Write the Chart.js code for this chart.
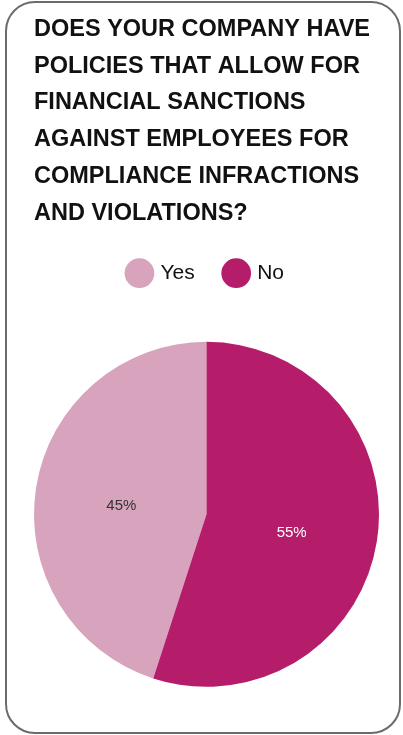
<!DOCTYPE html>
<html>
<head>
<meta charset="utf-8">
<script src="https://cdn.jsdelivr.net/npm/chart.js@4"></script>
<style>
  html, body { margin: 0; padding: 0; background: #fff; }
  #frame {
    position: absolute; left: 5px; top: 1px; width: 396px; height: 733px;
    box-sizing: border-box; border: 2.5px solid #6b6b6b; border-radius: 30px;
  }
  #wrap { position: absolute; left: 0; top: 0; width: 403px; height: 735px; }
</style>
</head>
<body>
<div id="frame"></div>
<div id="wrap"><canvas id="survey"></canvas></div>
<script>
const titleLines = [
  'DOES YOUR COMPANY HAVE',
  'POLICIES THAT ALLOW FOR',
  'FINANCIAL SANCTIONS',
  'AGAINST EMPLOYEES FOR',
  'COMPLIANCE INFRACTIONS',
  'AND VIOLATIONS?'
];
const answers = ['Yes', 'No'];
const shares = [45, 55];
const sliceColors = ['#d8a3bd', '#b51d6b'];
const shareColors = ['#333333', '#ffffff'];

const fontFamily = '"Liberation Sans", Arial, Helvetica, sans-serif';

// percent text in the middle of each slice
const shareLabels = {
  id: 'shareLabels',
  afterDatasetsDraw(chart) {
    const ctx = chart.ctx;
    const meta = chart.getDatasetMeta(0);
    ctx.save();
    ctx.font = '15px ' + fontFamily;
    ctx.textAlign = 'center';
    ctx.textBaseline = 'middle';
    meta.data.forEach((arc, i) => {
      const p = arc.tooltipPosition();
      ctx.fillStyle = shareColors[i];
      ctx.fillText(shares[i] + '%', p.x, p.y + 5);
    });
    ctx.restore();
  }
};

new Chart(document.getElementById('survey'), {
  type: 'pie',
  data: {
    labels: answers,
    datasets: [{
      data: shares,
      backgroundColor: sliceColors,
      borderWidth: 0
    }]
  },
  options: {
    responsive: true,
    maintainAspectRatio: false,
    animation: false,
    rotation: 198,
    layout: { padding: { left: 34, right: 24, top: 0, bottom: -2 } },
    plugins: {
      title: {
        display: true,
        text: titleLines,
        align: 'start',
        color: '#111111',
        font: { family: fontFamily, size: 23.5, weight: 'bold', lineHeight: 1.565 },
        padding: { top: 11, bottom: 0 }
      },
      legend: {
        display: true,
        position: 'top',
        labels: {
          usePointStyle: true,
          pointStyle: 'circle',
          boxWidth: 21,
          boxHeight: 21,
          padding: 31,
          color: '#111111',
          font: { family: fontFamily, size: 21 }
        }
      },
      tooltip: { enabled: false }
    }
  },
  plugins: [shareLabels]
});
</script>
</body>
</html>
